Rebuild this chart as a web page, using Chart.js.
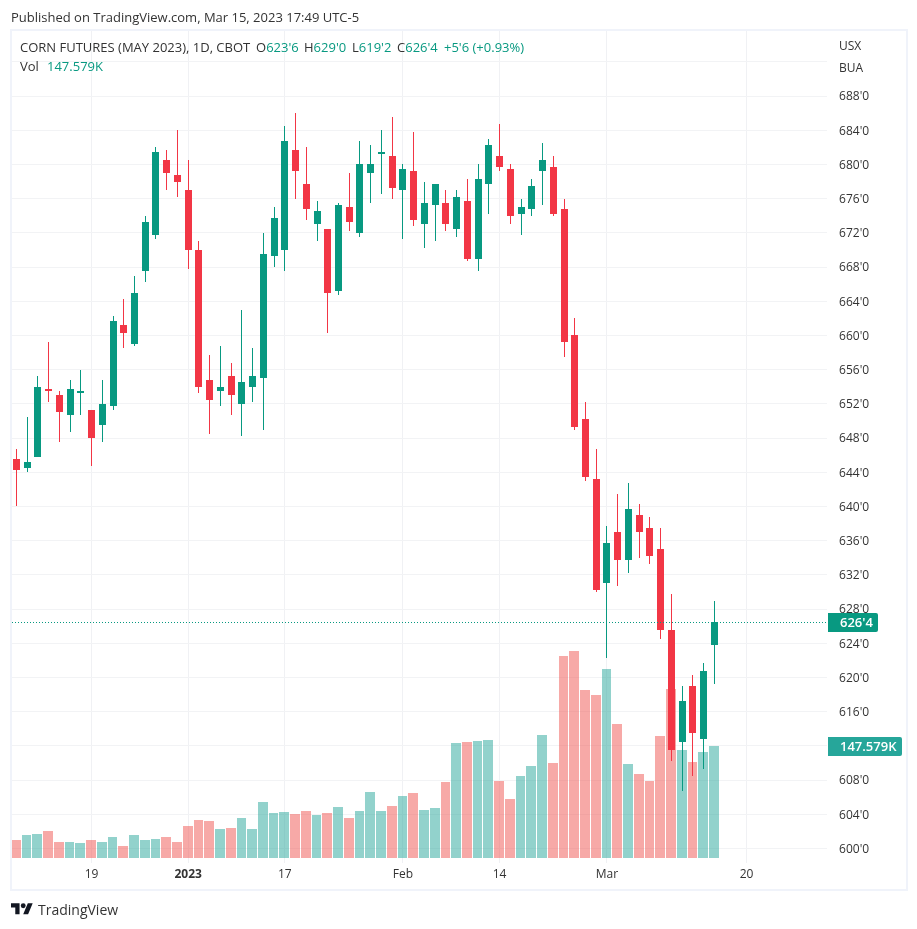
<!DOCTYPE html>
<html><head><meta charset="utf-8">
<script src="https://cdn.jsdelivr.net/npm/chart.js@4"></script>
<style>
html,body{margin:0;padding:0;background:#fff;width:917px;height:929px;overflow:hidden}
#c{position:absolute;left:0;top:0}
#frame{position:absolute;left:10px;top:29px;width:894px;height:858px;border:2px solid #f0f3fa;pointer-events:none}
.t{position:absolute;font-family:"Open Sans",sans-serif;font-size:13px;line-height:16px;color:#333;white-space:nowrap}
.g{color:#089981}
</style></head><body>
<canvas id="c" width="917" height="929"></canvas>
<div id="frame"></div>
<div class="t" style="left:11px;top:9px">Published on TradingView.com, Mar 15, 2023 17:49 UTC-5</div>
<div class="t" style="left:20px;top:39px">CORN FUTURES (MAY 2023), 1D, CBOT</div>
<div class="t" style="left:256px;top:39px">O<span class="g">623'6</span></div>
<div class="t" style="left:304px;top:39px">H<span class="g">629'0</span></div>
<div class="t" style="left:352px;top:39px">L<span class="g">619'2</span></div>
<div class="t" style="left:397px;top:39px">C<span class="g">626'4</span></div>
<div class="t g" style="left:444px;top:39px">+5'6 (+0.93%)</div>
<div class="t" style="left:20px;top:58px">Vol</div>
<div class="t g" style="left:47px;top:58px">147.579K</div>
<div class="t" style="left:839px;top:38px;font-size:12px">USX</div>
<div class="t" style="left:839px;top:60px;font-size:12px">BUA</div>
<svg style="position:absolute;left:11px;top:903px" width="22" height="11.5" viewBox="0 4 36 18"><path fill="#131722" d="M14 22H7V11H0V4h14v18zM28 22h-8l7.5-18h8L28 22z"/><circle fill="#131722" cx="20" cy="8" r="4"/></svg>
<div class="t" style="left:38px;top:901px;font-size:14px;line-height:18px">TradingView</div>
<script>
const sessions = ['Dec 8','Dec 9','Dec 12','Dec 13','Dec 14','Dec 15','Dec 16','Dec 19','Dec 20','Dec 21','Dec 22','Dec 23','Dec 27','Dec 28','Dec 29','Dec 30','Jan 3','Jan 4','Jan 5','Jan 6','Jan 9','Jan 10','Jan 11','Jan 12','Jan 13','Jan 17','Jan 18','Jan 19','Jan 20','Jan 23','Jan 24','Jan 25','Jan 26','Jan 27','Jan 30','Jan 31','Feb 1','Feb 2','Feb 3','Feb 6','Feb 7','Feb 8','Feb 9','Feb 10','Feb 13','Feb 14','Feb 15','Feb 16','Feb 17','Feb 21','Feb 22','Feb 23','Feb 24','Feb 27','Feb 28','Mar 1','Mar 2','Mar 3','Mar 6','Mar 7','Mar 8','Mar 9','Mar 10','Mar 13','Mar 14','Mar 15','Mar 16','Mar 17','Mar 20','Mar 21','Mar 22','Mar 23','Mar 24','Mar 27','Mar 28','Mar 29'];
const opens = [645.5,644.5,645.75,653.75,653,650.75,653.25,651.25,649.5,651.75,661.25,659,667.5,671.75,680.5,678.75,677,670,654.75,653.5,655.25,652,654,655,669.25,670,681.75,677.75,673,672.5,665.25,675,672,679,681.25,681,677,679.25,673,675.25,675.5,672.5,675.75,669,677.75,681,679.5,674.25,674.75,679.25,679.75,674.75,660,650.25,643.25,631,637,633.75,639,637.5,635,625.5,612.5,619,612.75,623.75];
const highs = [646.75,650.5,655.25,659.25,653.5,654.75,656,651.25,654.75,662.25,664.25,667,674,682,681.75,684,680.5,671,657.75,658.75,656.75,663,658.5,672,675,684.5,686,682,675.75,672.5,675.5,679,682.75,682.25,684,685.5,680,683.75,678,677.75,677,677,678.25,680,683,684.75,680,676,678.25,682.5,681,676,662,652.25,646.75,637.75,641.5,642.75,640.25,638.75,637.5,629.75,619,620.25,621.75,629];
const lows = [640,644,645.75,652.25,647.5,648.75,650.75,644.75,647.5,651.25,658.5,658.75,666.25,671.25,677,676.25,667.75,653.25,648.5,651.75,650.75,648.25,652.25,649,668,667.5,676,673.5,671,660.25,664.75,672.25,671.5,675.5,676.5,676,671.25,672.75,670.25,671,672.25,671.5,668.75,667.5,674.25,679.25,673,671.75,674,675.25,674,657.5,649,643,630,622.25,630.75,632.25,634,633.25,624.5,610.25,606.75,608.5,609.25,619.25];
const closes = [644.25,645.25,654,653.5,651,653.75,653.5,648,652,661.75,660.25,665,673.25,681.5,679,678,670,654,652.5,654,653,654.5,655.25,669.5,673.75,682.75,679.25,674.75,674.5,665,675.25,673.25,680,680,681.5,677.25,679.5,673.5,675.5,677.75,673,676.25,669,678.25,682.25,679.75,674,675,677.5,680.5,674.25,659.25,649.25,643.5,630.25,635.75,633.75,639.75,637,634.25,625.5,611.5,617.25,613.5,620.75,626.5];
const volumes = [23.7,30.3,31.6,35.6,21.1,21.1,19.8,23.7,21.1,27.7,15.8,30.3,23.7,25,27.7,21.1,42.2,50.1,48.8,38.2,39.5,52.7,38.2,73.8,59.3,60.6,58,61.9,56.7,59.3,67.2,52.7,61.9,87,61.9,68.5,81.7,85.6,63.2,65.9,100.1,151.5,152.8,154.2,155.5,101.5,77.7,108,121.2,162.1,125.2,266.2,272.7,221.4,214.8,249,176.6,123.9,110.7,101.5,160.7,222.7,142.3,126.5,139.7,147.579];
const tickSessions = ['Dec 19','Jan 3','Jan 17','Feb 1','Feb 14','Mar 1','Mar 20'];
const tickTexts = ['19','2023','17','Feb','14','Mar','20'];
const lastCloseLabel = "626'4";
const lastVolumeLabel = '147.579K';

const UP='#089981', DOWN='#f23645', VUP='rgba(38,166,154,0.5)', VDOWN='rgba(239,83,80,0.5)';
const isUp = opens.map((o,i)=>closes[i]>=o);
const FONT='"Open Sans",sans-serif';

const snap = {
  id:'snap',
  afterDatasetsUpdate(chart){
    chart.data.datasets.forEach((ds,di)=>{
      const meta=chart.getDatasetMeta(di);
      const pitch=chart.scales.x.getPixelForValue(1)-chart.scales.x.getPixelForValue(0);
      meta.data.forEach(el=>{
        if(ds.kind==='vol'){
          const l=Math.round(el.x-pitch/2), r=Math.round(el.x+pitch/2)-1;
          el.x=(l+r)/2; el.width=r-l;
        } else {
          el.x=Math.floor(el.x)+0.5;
          let a=Math.round(el.y), b=Math.round(el.base);
          if(Math.abs(a-b)<1) b=a+1;
          el.y=a; el.base=b;
        }
        el.y=Math.round(el.y); el.base=Math.round(el.base);
      });
    });
  },
  afterDraw(chart){
    const {ctx,scales}=chart, n=closes.length-1;
    const yp=Math.round(scales.y.getPixelForValue(closes[n]));
    const yv=Math.round(scales.y1.getPixelForValue(volumes[n]));
    ctx.save();
    ctx.strokeStyle=UP; ctx.lineWidth=1; ctx.setLineDash([1,2]);
    ctx.beginPath(); ctx.moveTo(12,yp+0.5); ctx.lineTo(828,yp+0.5); ctx.stroke();
    ctx.setLineDash([]);
    ctx.font='600 13px '+FONT; ctx.textBaseline='middle'; ctx.textAlign='left';
    ctx.fillStyle=UP; ctx.beginPath(); ctx.roundRect(828,yp-9,50,19,[0,2,2,0]); ctx.fill();
    ctx.fillStyle='#fff'; ctx.fillText(lastCloseLabel,840,yp+1);
    ctx.fillStyle='#26a69a'; ctx.beginPath(); ctx.roundRect(828,yv-9,74,19,[0,2,2,0]); ctx.fill();
    ctx.fillStyle='#fff'; ctx.fillText(lastVolumeLabel,840,yv+1);
    ctx.restore();
  }
};

new Chart(document.getElementById('c'),{
  type:'bar',
  data:{labels:sessions,datasets:[
    {kind:'body',data:opens.map((o,i)=>[o,closes[i]]),backgroundColor:isUp.map(u=>u?UP:DOWN),barThickness:7,grouped:false,order:1,yAxisID:'y',borderSkipped:false,inflateAmount:0},
    {kind:'wick',data:lows.map((l,i)=>[l,highs[i]]),backgroundColor:isUp.map(u=>u?UP:DOWN),barThickness:1,grouped:false,order:2,yAxisID:'y',borderSkipped:false,inflateAmount:0},
    {kind:'vol',data:volumes,backgroundColor:isUp.map(u=>u?VUP:VDOWN),barThickness:10,grouped:false,order:3,yAxisID:'y1',inflateAmount:0}
  ]},
  options:{
    responsive:false,animation:false,devicePixelRatio:1,
    layout:{padding:{left:11,top:31,right:0,bottom:39}},
    plugins:{legend:{display:false},tooltip:{enabled:false}},
    scales:{
      x:{
        offset:true,
        grid:{offset:false,color:'#f0f1f4',drawTicks:false},
        border:{display:false},
        afterFit(s){s.height=27;},
        afterBuildTicks(s){s.ticks=s.ticks.filter(t=>tickSessions.includes(sessions[t.value]));},
        ticks:{
          autoSkip:false,maxRotation:0,minRotation:0,padding:4,color:'#333',
          font:c=>({family:FONT,size:12,weight:c.tick&&c.tick.label==='2023'?'700':'400'}),
          callback(v){return tickTexts[tickSessions.indexOf(sessions[v])];}
        }
      },
      y:{
        position:'right',min:598.3,max:695.61,
        grid:{color:'#f2f3f5',drawTicks:false},
        border:{display:false},
        afterFit(s){s.width=89.9;},
        ticks:{
          stepSize:4,includeBounds:false,autoSkip:false,padding:12,color:'#333',labelOffset:1,
          font:{family:FONT,size:12},
          callback(v){return v>688?'':v+"'0";}
        }
      },
      y1:{display:false,min:-6.59,max:1089.7}
    }
  },
  plugins:[snap]
});
</script>
</body></html>
